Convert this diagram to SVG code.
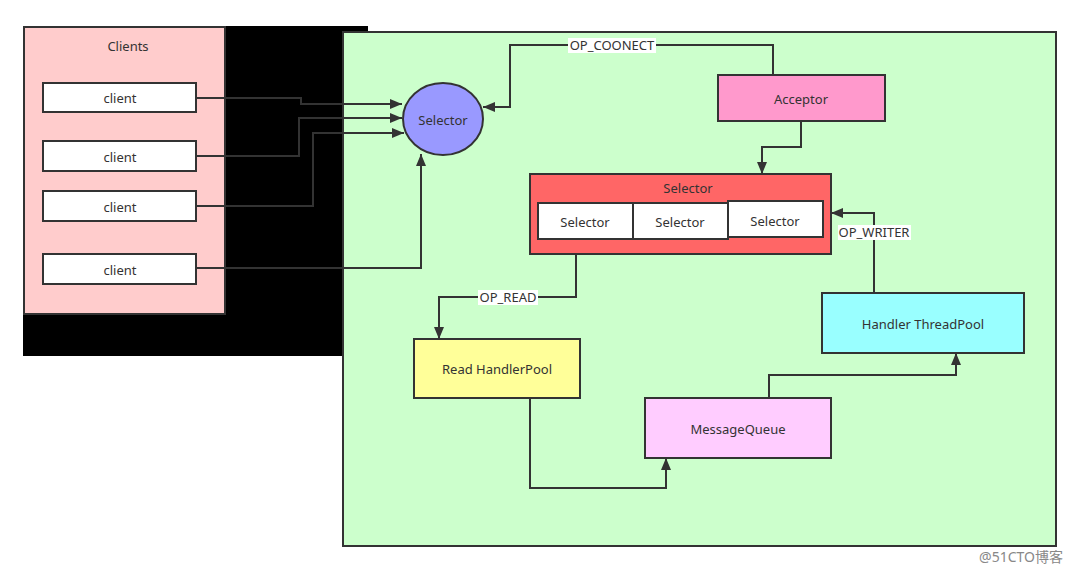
<svg xmlns="http://www.w3.org/2000/svg" width="1080" height="571" viewBox="0 0 1080 571">
<style>
.t{font-family:"Noto Sans","Open Sans","Liberation Sans",sans-serif;font-size:13px;fill:#333;text-anchor:middle;dominant-baseline:central}
.b{stroke:#333;stroke-width:2}
.c{fill:none;stroke:#333;stroke-width:2}
.lbl{fill:#fff}
</style>
<defs>
<marker id="ah" viewBox="0 0 12 10" refX="12" refY="5" markerWidth="12" markerHeight="10" markerUnits="userSpaceOnUse" orient="auto">
<path d="M0,0 L12,5 L0,10 z" fill="#333"/>
</marker>
</defs>
<rect width="1080" height="571" fill="#fff"/>
<rect x="23" y="26" width="345" height="330" fill="#000"/>
<g id="clients">
<rect x="24" y="27" width="201" height="287" fill="#FFCCCC" class="b"/>
<text class="t" x="128" y="46">Clients</text>
</g>
<g id="client1"><rect x="43" y="83" width="153" height="29" fill="#fff" class="b"/><text class="t" x="120" y="98">client</text></g>
<g id="client2"><rect x="43" y="141" width="153" height="30" fill="#fff" class="b"/><text class="t" x="120" y="157">client</text></g>
<g id="client3"><rect x="43" y="191" width="153" height="30" fill="#fff" class="b"/><text class="t" x="120" y="207">client</text></g>
<g id="client4"><rect x="43" y="254" width="153" height="30" fill="#fff" class="b"/><text class="t" x="120" y="270">client</text></g>
<g id="server">
<rect x="343" y="32" width="713" height="514" fill="#CCFFCC" class="b"/>
</g>
<g id="selectorMain">
<ellipse cx="443" cy="119" rx="40" ry="36" fill="#9999FF" class="b"/>
<text class="t" x="443" y="120">Selector</text>
</g>
<g id="acceptor">
<rect x="718" y="75" width="167" height="46" fill="#FF99CC" class="b"/>
<text class="t" x="801" y="99">Acceptor</text>
</g>
<g id="selectorGroup">
<rect x="530" y="174" width="301" height="80" fill="#FF6666" class="b"/>
<text class="t" x="688" y="188">Selector</text>
</g>
<g id="sel1"><rect x="538" y="203" width="95" height="36" fill="#fff" class="b"/><text class="t" x="585" y="222">Selector</text></g>
<g id="sel2"><rect x="633" y="203" width="95" height="36" fill="#fff" class="b"/><text class="t" x="680" y="222">Selector</text></g>
<g id="sel3"><rect x="728" y="201" width="95" height="36" fill="#fff" class="b"/><text class="t" x="775" y="221">Selector</text></g>
<g id="readPool">
<rect x="414" y="339" width="166" height="59" fill="#FFFF99" class="b"/>
<text class="t" x="497" y="369">Read HandlerPool</text>
</g>
<g id="messageQueue">
<rect x="645" y="398" width="186" height="60" fill="#FFCCFF" class="b"/>
<text class="t" x="738" y="429">MessageQueue</text>
</g>
<g id="handlerPool">
<rect x="822" y="293" width="202" height="60" fill="#99FFFF" class="b"/>
<text class="t" x="923" y="324">Handler ThreadPool</text>
</g>
<g id="connectors">
<polyline class="c" points="196,98 301,98 301,104 402,104" marker-end="url(#ah)"/>
<polyline class="c" points="196,156 299,156 299,118 402,118" marker-end="url(#ah)"/>
<polyline class="c" points="196,206 313,206 313,133 404,133" marker-end="url(#ah)"/>
<polyline class="c" points="196,268 421,268 421,154" marker-end="url(#ah)"/>
<polyline class="c" points="773,75 773,45 510,45 510,107 483,107" marker-end="url(#ah)"/>
<rect class="lbl" x="568" y="38" width="88" height="15"/>
<text class="t" x="612" y="45">OP_COONECT</text>
<polyline class="c" points="801,121 801,147 762,147 762,174" marker-end="url(#ah)"/>
<polyline class="c" points="576,254 576,297 439,297 439,339" marker-end="url(#ah)"/>
<rect class="lbl" x="478" y="290" width="60" height="15"/>
<text class="t" x="508" y="297">OP_READ</text>
<polyline class="c" points="874,293 874,213 831,213" marker-end="url(#ah)"/>
<rect class="lbl" x="838" y="225" width="73" height="15"/>
<text class="t" x="874" y="232">OP_WRITER</text>
<polyline class="c" points="530,398 530,488 666,488 666,458" marker-end="url(#ah)"/>
<polyline class="c" points="769,398 769,375 956,375 956,353" marker-end="url(#ah)"/>
</g>
<text x="1021" y="556" style="font-family:'Noto Sans','Noto Sans CJK SC',sans-serif;font-size:14px;fill:#888;text-anchor:middle;dominant-baseline:central">@51CTO博客</text>
</svg>
